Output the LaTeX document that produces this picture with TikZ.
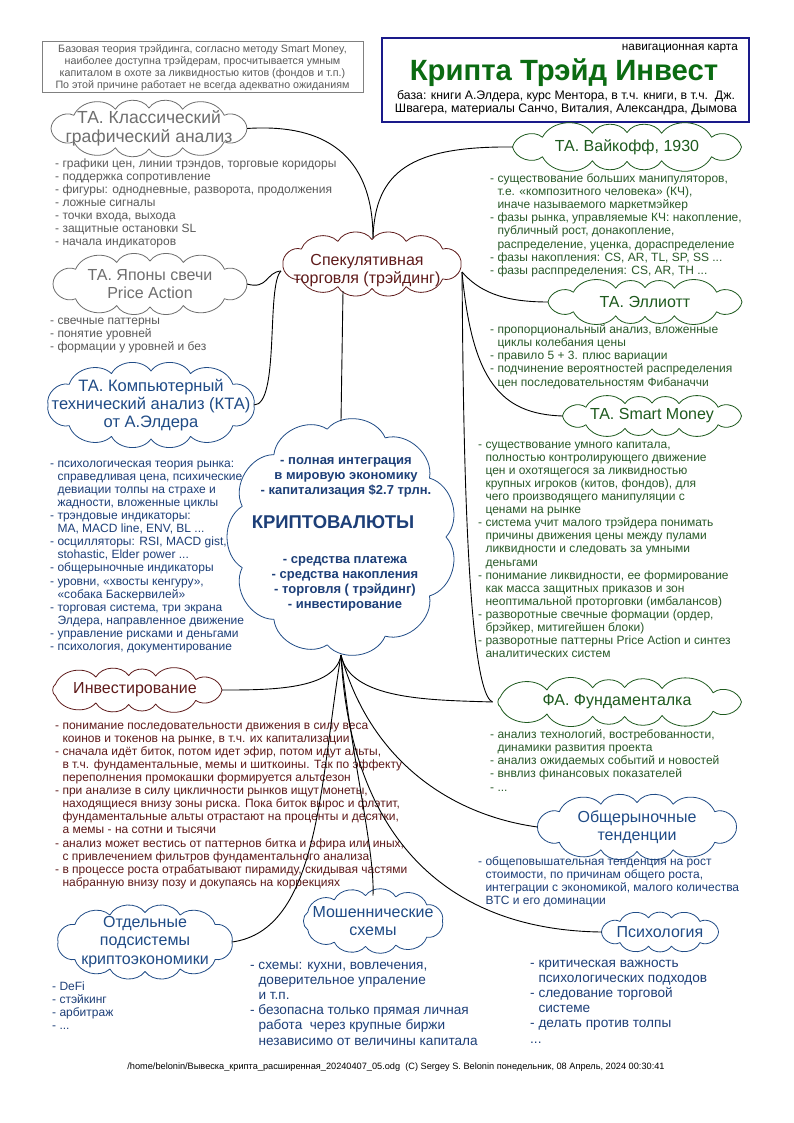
\documentclass[tikz,border=0pt]{standalone}
\usepackage{fontspec}
\setmainfont{Liberation Sans}
\usetikzlibrary{shapes.geometric}
\definecolor{tgray}{HTML}{6E6E6E}
\definecolor{lgray}{HTML}{5A5A5A}
\definecolor{dred}{HTML}{5E1A1A}
\definecolor{tblue}{HTML}{1F4B86}
\definecolor{lblue}{HTML}{1D3F78}
\definecolor{tgreen}{HTML}{1E5A1E}
\definecolor{lgreen}{HTML}{2A5A2A}
\definecolor{titlegreen}{HTML}{0B6B12}
\definecolor{navbox}{HTML}{1A1A8A}
\tikzset{
  ct/.style={inner sep=0pt, align=center},
  puff/.style={line width=0.8pt, line join=round},
  lst/.style={anchor=north west, align=left, inner sep=0pt, font=\fontsize{12}{13.1}\selectfont},
  lstb/.style={anchor=north west, align=left, inner sep=0pt, font=\fontsize{13.6}{15.2}\selectfont},
  link/.style={draw=black, line width=0.9pt},
  hd/.style={font=\fontsize{16}{18.5}\selectfont},
}
\newcommand{\ind}{\phantom{- }}
% #1 name, #2 cx, #3 cy, #4 W, #5 H, #6 puffs, #7 warp, #8 colour
\newcommand{\puffcloud}[8]{%
  \node[ellipse, minimum width=#4pt, minimum height=#5pt, inner sep=0pt, outer sep=0pt] (#1) at (#2,#3) {};
  \draw[puff, draw=#8] ({#2+#4/2}, #3)
    \foreach \s in {1,...,#6} { to[bend left=58] ({#2+#4/2*cos(\s*360/#6 + #7*28.6479*sin(2*\s*360/#6))}, {#3+#5/2*sin(\s*360/#6 + #7*28.6479*sin(2*\s*360/#6))}) };
}
\begin{document}
\begin{tikzpicture}[x=1pt,y=-1pt]
\useasboundingbox[fill=white] (0,0) rectangle (794,1123);

% top-left note
\node[draw=gray, line width=1pt, minimum width=321pt, minimum height=51pt, inner sep=0pt, align=center, text=lgray, font=\fontsize{10.7}{12}\selectfont] (note) at (202.5,67.5)
 {Базовая теория трэйдинга, согласно методу Smart Money,\\наиболее доступна трэйдерам, просчитывается умным\\капиталом в охоте за ликвидностью китов (фондов и т.п.)\\По этой причине работает не всегда адекватно ожиданиям};

% navigation box
\node[draw=navbox, line width=2pt, minimum width=367pt, minimum height=84pt, inner sep=0pt] (nav) at (565.5,80) {};
\node[anchor=east, inner sep=0pt, font=\fontsize{11.8}{13}\selectfont] (navl) at (738,49) {навигационная карта};
\node[inner sep=0pt, text=titlegreen, font=\fontsize{29.3}{32}\bfseries\selectfont] (title) at (564,73) {Крипта Трэйд Инвест};
\node[inner sep=0pt, align=center, font=\fontsize{12.3}{13}\selectfont] (base) at (566,103) {база: книги А.Элдера, курс Ментора, в т.ч. книги, в т.ч.\ \ Дж.\\Швагера, материалы Санчо, Виталия, Александра, Дымова};

% clouds (outline) and their texts
\puffcloud{classic}{149}{128.5}{196}{41}{12}{0.4}{tgray}
\node[ct, text=tgray, font=\fontsize{17.5}{18.5}\selectfont] (classict) at (classic) {ТА. Классический\\графический анализ};
\puffcloud{spec}{372}{264}{178}{49}{12}{0.3}{dred}
\node[ct, text=dred, font=\fontsize{16}{18}\selectfont] (spect) at (367,271) {Спекулятивная\\торговля (трэйдинг)};
\puffcloud{japan}{150}{284}{194}{46}{12}{0.4}{tgray}
\node[ct, text=tgray, hd] (japant) at (japan) {ТА. Японы свечи\\Price Action};
\puffcloud{kta}{151}{405}{206}{68}{12}{0.3}{tblue}
\node[ct, text=tblue, font=\fontsize{16.5}{18}\selectfont] (ktat) at (kta) {ТА. Компьютерный\\технический анализ (КТА)\\от А.Элдера};
\puffcloud{crypto}{342}{537}{208}{218}{11}{0}{tblue}
\node[ct, text=lblue, font=\fontsize{13}{15}\bfseries\selectfont] (cryptoA) at (346,477) {- полная интеграция\\в мировую экономику\\- капитализация \$2.7 трлн.};
\node[ct, text=lblue, font=\fontsize{18.5}{20}\bfseries\selectfont] (cryptoT) at (333,522) {КРИПТОВАЛЮТЫ};
\node[ct, text=lblue, font=\fontsize{13}{15}\bfseries\selectfont] (cryptoB) at (345,584) {- средства платежа\\- средства накопления\\- торговля ( трэйдинг)\\- инвестирование};
\puffcloud{wyck}{627}{147}{229}{29}{12}{0.5}{tgreen}
\node[ct, text=tgreen, hd] (wyckt) at (wyck) {ТА. Вайкофф, 1930};
\puffcloud{ell}{645}{302}{194}{29}{12}{0.5}{tgreen}
\node[ct, text=tgreen, hd] (ellt) at (ell) {ТА. Эллиотт};
\puffcloud{smart}{652}{416}{179}{26}{12}{0.5}{tgreen}
\node[ct, text=tgreen, hd] (smartt) at (smart) {ТА. Smart Money};
\puffcloud{fa}{617}{702}{249}{29}{13}{0.5}{tgreen}
\node[ct, text=tgreen, hd] (fat) at (fa) {ФА. Фундаменталка};
\puffcloud{market}{637}{827}{199}{49}{12}{0.35}{tblue}
\node[ct, text=tblue, hd] (markett) at (market) {Общерыночные\\тенденции};
\puffcloud{invest}{135}{690}{174}{29}{11}{0.5}{dred}
\node[ct, text=dred, hd] (investt) at (invest) {Инвестирование};
\puffcloud{subsys}{145}{942}{174}{59}{12}{0.25}{tblue}
\node[ct, text=tblue, hd] (subsyst) at (subsys) {Отдельные\\подсистемы\\криптоэкономики};
\puffcloud{fraud}{373}{921}{139}{51}{11}{0.25}{tblue}
\node[ct, text=tblue, hd] (fraudt) at (fraud) {Мошеннические\\схемы};
\puffcloud{psy}{660}{932}{117}{29}{10}{0.4}{tblue}
\node[ct, text=tblue, hd] (psyt) at (psy) {Психология};

% lists
\node[lst, text=lgray] (lclassic) at (55,158.5) {- графики цен, линии трэндов, торговые коридоры\\- поддержка сопротивление\\- фигуры: однодневные, разворота, продолжения\\- ложные сигналы\\- точки входа, выхода\\- защитные остановки SL\\- начала индикаторов};
\node[lst, text=lgray] (ljapan) at (50,317.5) {- свечные паттерны\\- понятие уровней\\- формации у уровней и без};
\node[lst, text=lblue] (lkta) at (50,460.5) {- психологическая теория рынка:\\\ind справедливая цена, психические\\\ind девиации толпы на страхе и\\\ind жадности, вложенные циклы\\- трэндовые индикаторы:\\\ind MA, MACD line, ENV, BL ...\\- осцилляторы: RSI, MACD gist,\\\ind stohastic, Elder power ...\\- общерыночные индикаторы\\- уровни, «хвосты кенгуру»,\\\ind «собака Баскервилей»\\- торговая система, три экрана\\\ind Элдера, направленное движение\\- управление рисками и деньгами\\- психология, документирование};
\node[lst, text=lgreen] (lwyck) at (490,173.5) {- существование больших манипуляторов,\\\ind т.е. «композитного человека» (КЧ),\\\ind иначе называемого маркетмэйкер\\- фазы рынка, управляемые КЧ: накопление,\\\ind публичный рост, донакопление,\\\ind распределение, уценка, дораспределение\\- фазы накопления: CS, AR, TL, SP, SS ...\\- фазы расппределения: CS, AR, TH ...};
\node[lst, text=lgreen] (lell) at (490,324.5) {- пропорциональный анализ, вложенные\\\ind циклы колебания цены\\- правило 5 + 3. плюс вариации\\- подчинение вероятностей распределения\\\ind цен последовательностям Фибаначчи};
\node[lst, text=lgreen] (lsmart) at (478,441.5) {- существование умного капитала,\\\ind полностью контролирующего движение\\\ind цен и охотящегося за ликвидностью\\\ind крупных игроков (китов, фондов), для\\\ind чего производящего манипуляции с\\\ind ценами на рынке\\- система учит малого трэйдера понимать\\\ind причины движения цены между пулами\\\ind ликвидности и следовать за умными\\\ind деньгами\\- понимание ликвидности, ее формирование\\\ind как масса защитных приказов и зон\\\ind неоптимальной проторговки (имбалансов)\\- разворотные свечные формации (ордер,\\\ind брэйкер, митигейшен блоки)\\- разворотные паттерны Price Action и синтез\\\ind аналитических систем};
\node[lst, text=lgreen] (lfa) at (490,729.5) {- анализ технологий, востребованности,\\\ind динамики развития проекта\\- анализ ожидаемых событий и новостей\\- внвлиз финансовых показателей\\- ...};
\node[lst, text=lblue] (lmarket) at (478,856.5) {- общеповышательная тенденция на рост\\\ind стоимости, по причинам общего роста,\\\ind интеграции с экономикой, малого количества\\\ind BTC и его доминации};
\node[lst, text=dred] (linvest) at (55,722.5) {- понимание последовательности движения в силу веса\\\ind коинов и токенов на рынке, в т.ч. их капитализации\\- сначала идёт биток, потом идет эфир, потом идут альты,\\\ind в т.ч. фундаментальные, мемы и шиткоины. Так по эффекту\\\ind переполнения промокашки формируется альтсезон\\- при анализе в силу цикличности рынков ищут монеты,\\\ind находящиеся внизу зоны риска. Пока биток вырос и флэтит,\\\ind фундаментальные альты отрастают на проценты и десятки,\\\ind а мемы - на сотни и тысячи\\- анализ может вестись от паттернов битка и эфира или иных,\\\ind с привлечением фильтров фундаментального анализа\\- в процессе роста отрабатывают пирамиду, скидывая частями\\\ind набранную внизу позу и докупаясь на коррекциях};
\node[lst, text=lblue] (lsubsys) at (52,981.5) {- DeFi\\- стэйкинг\\- арбитраж\\- ...};
\node[lstb, text=lblue] (lfraud) at (250,961.5) {- схемы: кухни, вовлечения,\\\ind доверительное упраление\\\ind и т.п.\\- безопасна только прямая личная\\\ind работа\ \ через крупные биржи\\\ind независимо от величины капитала};
\node[lstb, text=lblue] (lpsy) at (530,959.5) {- критическая важность\\\ind психологических подходов\\- следование торговой\\\ind системе\\- делать против толпы\\...};

% footer
\node[inner sep=0pt, font=\fontsize{9.2}{10}\selectfont] (footer) at (396,1067) {/home/belonin/Вывеска\_крипта\_расширенная\_20240407\_05.odg\ \ (C) Sergey S. Belonin понедельник, 08 Апрель, 2024 00:30:41};

% connectors
\coordinate (spt) at (373,238);
\coordinate (spl) at (281,271);
\coordinate (spr) at (462,272);
\coordinate (spb) at (343,291);
\coordinate (crt) at (341,421);
\coordinate (crb) at (341,655);
\draw[link] (classic.east) .. controls (345,122) and (373,175) .. (spt);
\draw[link] (wyck.west) .. controls (410,146) and (375,172) .. (spt);
\draw[link] (japan.east) .. controls (268,290) and (266,272) .. (spl);
\draw[link] (kta.east) .. controls (280,405) and (266,285) .. (spl);
\draw[link] (spr) .. controls (478,290) and (500,302) .. (ell.west);
\draw[link] (spr) .. controls (472,380) and (500,414) .. (smart.west);
\draw[link] (spr) .. controls (463,350) and (463,690) .. (fa.west);
\draw[link] (spb) -- (crt);
\draw[link] (crb) .. controls (335,690) and (270,690) .. (invest.east);
\draw[link] (crb) .. controls (350,700) and (430,700) .. (fa.west);
\draw[link] (crb) .. controls (370,760) and (450,815) .. (market.west);
\draw[link] (crb) .. controls (350,830) and (440,930) .. (psy.west);
\draw[link] (crb) .. controls (350,750) and (375,850) .. (fraud.north);
\draw[link] (crb) .. controls (320,780) and (320,930) .. (subsys.east);
\end{tikzpicture}
\end{document}
